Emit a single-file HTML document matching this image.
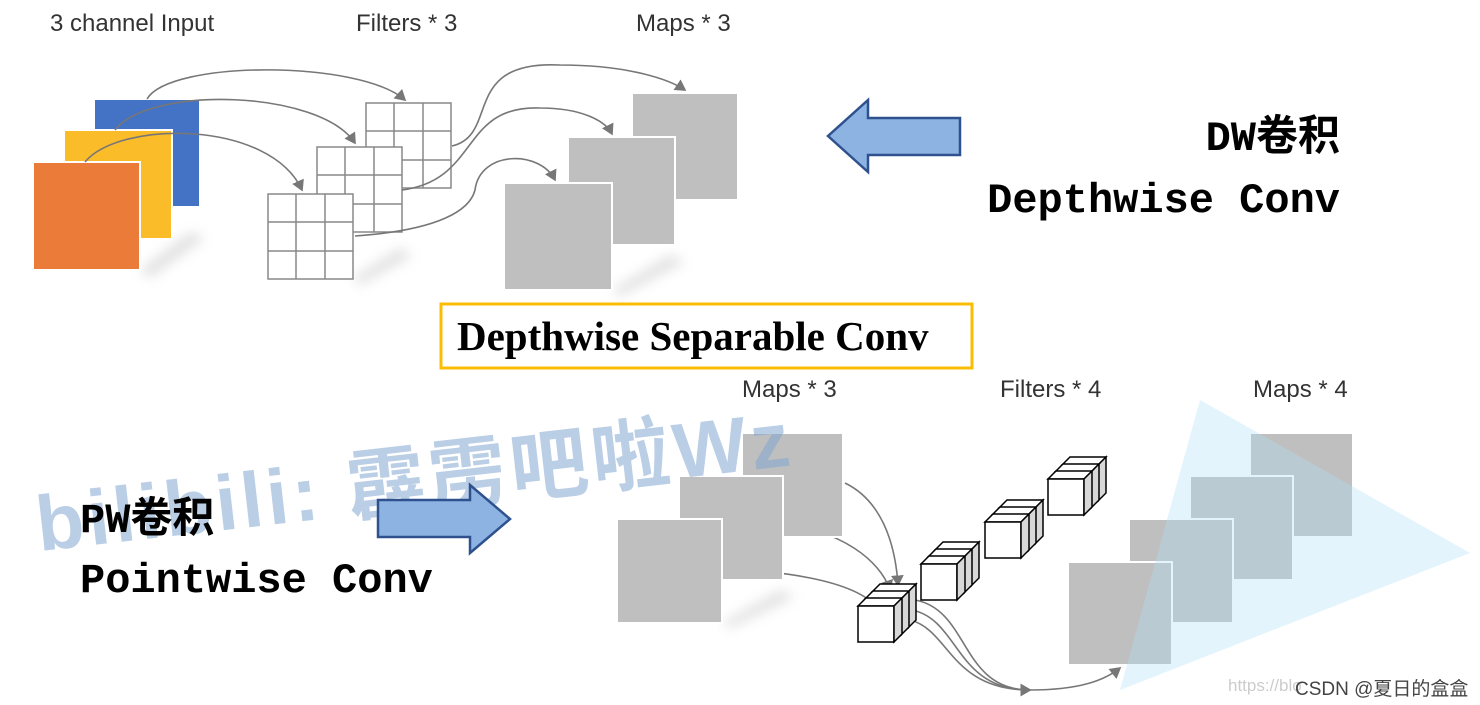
<!DOCTYPE html>
<html><head><meta charset="utf-8"><style>
body{margin:0;width:1480px;height:705px;background:#fff;overflow:hidden;position:relative;font-family:"Liberation Sans","Noto Sans CJK SC",sans-serif}
.t{position:absolute;white-space:nowrap}
.lb{font-size:24px;color:#333}
.m{font-weight:bold;font-family:'Liberation Mono','Noto Sans CJK SC',monospace;font-size:42px;line-height:1}
</style></head><body>
<svg width="1480" height="705" style="position:absolute;left:0;top:0">
<defs>
<marker id="a" markerWidth="8" markerHeight="8" refX="6" refY="4" orient="auto"><path d="M0,0 L7,4 L0,8 z" fill="#777"/></marker>
<filter id="s"><feGaussianBlur stdDeviation="6"/></filter>
<g id="grid"><rect x="0" y="0" width="85" height="85" fill="#fff" stroke="#888" stroke-width="1.5"/>
<path d="M28,0V85M57,0V85M0,28H85M0,57H85" stroke="#888" stroke-width="1.5"/></g>
<g id="c1"><path d="M0,8 L8,0 L44,0 L36,8 z" fill="#fff" stroke="#000" stroke-width="1.5"/>
<rect x="0" y="8" width="36" height="36" fill="#fff" stroke="#000" stroke-width="1.5"/>
<path d="M36,8 L44,0 L44,36 L36,44 z" fill="#d8d8d8" stroke="#000" stroke-width="1.5"/></g>
<g id="cube"><use href="#c1" x="14" y="-14"/><use href="#c1" x="7" y="-7"/><use href="#c1" x="0" y="0"/></g>
</defs>
<g fill="#aaa" opacity=".35" filter="url(#s)">
<path d="M140,270 L190,232 L205,238 L150,278z"/><path d="M353,278 L400,248 L412,256 L360,285z"/>
<path d="M612,290 L670,255 L685,262 L620,296z"/><path d="M722,623 L780,590 L795,597 L730,628z"/>
</g>
<rect x="94" y="99" width="106" height="108" fill="#4472c4" stroke="#fff" stroke-width="2"/>
<rect x="64" y="130" width="108" height="109" fill="#fbbc29" stroke="#fff" stroke-width="2"/>
<rect x="33" y="162" width="107" height="108" fill="#ea7b39" stroke="#fff" stroke-width="2"/>
<use href="#grid" x="366" y="103"/><use href="#grid" x="317" y="147"/><use href="#grid" x="268" y="194"/>
<rect x="632" y="93" width="106" height="107" fill="#bfbfbf" stroke="#fff" stroke-width="2"/>
<rect x="568" y="137" width="107" height="108" fill="#bfbfbf" stroke="#fff" stroke-width="2"/>
<rect x="504" y="183" width="108" height="107" fill="#bfbfbf" stroke="#fff" stroke-width="2"/>
<g fill="none" stroke="#777" stroke-width="1.6" marker-end="url(#a)">
<path d="M147,99 C170,60 360,60 405,100"/><path d="M115,130 C150,85 320,90 355,143"/><path d="M85,162 C120,120 270,120 302,190"/>
<path d="M452,146 C500,135 460,60 560,65 C630,65 670,80 685,90"/>
<path d="M402,190 C480,180 460,105 540,108 C580,108 605,120 612,134"/>
<path d="M355,236 C440,230 470,210 475,190 C480,150 540,150 555,180"/>
<path d="M845,483 C880,500 895,540 898,585"/><path d="M783,525 C840,530 880,560 890,590"/><path d="M722,570 C780,570 850,580 875,605"/>
<path d="M915,600 C970,610 960,690 1030,690 C1080,690 1105,680 1120,668"/>
<path d="M912,610 C960,620 955,690 1030,690"/><path d="M910,620 C950,630 950,690 1030,690"/>
</g>
<rect x="742" y="433" width="101" height="104" fill="#bfbfbf" stroke="#fff" stroke-width="2"/>
<rect x="679" y="476" width="104" height="104" fill="#bfbfbf" stroke="#fff" stroke-width="2"/>
<rect x="617" y="519" width="105" height="104" fill="#bfbfbf" stroke="#fff" stroke-width="2"/>
<use href="#cube" x="1048" y="471"/><use href="#cube" x="985" y="514"/><use href="#cube" x="921" y="556"/><use href="#cube" x="858" y="598"/>
<rect x="1250" y="433" width="103" height="104" fill="#bfbfbf" stroke="#fff" stroke-width="2"/>
<rect x="1190" y="476" width="103" height="104" fill="#bfbfbf" stroke="#fff" stroke-width="2"/>
<rect x="1129" y="519" width="104" height="104" fill="#bfbfbf" stroke="#fff" stroke-width="2"/>
<rect x="1068" y="562" width="104" height="103" fill="#bfbfbf" stroke="#fff" stroke-width="2"/>
<path d="M1200,400 L1470,553 L1120,690z" fill="#aee0f5" opacity=".35"/>
</svg>
<div class="t" style="left:42px;top:462px;font-size:78px;letter-spacing:4px;font-weight:bold;color:rgba(130,165,210,.55);transform:rotate(-6.5deg);transform-origin:0 100%">bilibili: 霹雳吧啦Wz</div>
<svg width="1480" height="705" style="position:absolute;left:0;top:0">
<path d="M960,118 H868 V100 L828,136 L868,172 V155 H960z" fill="#8db3e2" stroke="#2f528f" stroke-width="2.5"/>
<path d="M378,500 H470 V485 L510,519 L470,553 V537 H378z" fill="#8db3e2" stroke="#2f528f" stroke-width="2.5"/>
<rect x="441" y="304" width="531" height="64" fill="none" stroke="#fbbc04" stroke-width="3"/>
</svg>
<div class="t lb" style="left:50px;top:10px">3 channel Input</div>
<div class="t lb" style="left:356px;top:10px">Filters * 3</div>
<div class="t lb" style="left:636px;top:10px">Maps * 3</div>
<div class="t lb" style="left:742px;top:376px">Maps * 3</div>
<div class="t lb" style="left:1000px;top:376px">Filters * 4</div>
<div class="t lb" style="left:1253px;top:376px">Maps * 4</div>
<div class="t m" style="right:140px;top:118px">DW卷积</div>
<div class="t m" style="right:140px;top:180px">Depthwise Conv</div>
<div class="t" style="left:457px;top:312px;font-size:41px;font-weight:bold;font-family:'Liberation Serif',serif">Depthwise Separable Conv</div>
<div class="t m" style="left:80px;top:500px">PW卷积</div>
<div class="t m" style="left:80px;top:560px">Pointwise Conv</div>
<div class="t" style="left:1228px;top:676px;font-size:17px;color:#ccc">https://blo</div>
<div class="t" style="left:1295px;top:674px;font-size:19px;color:#444">CSDN @夏日的盒盒</div>
</body></html>
